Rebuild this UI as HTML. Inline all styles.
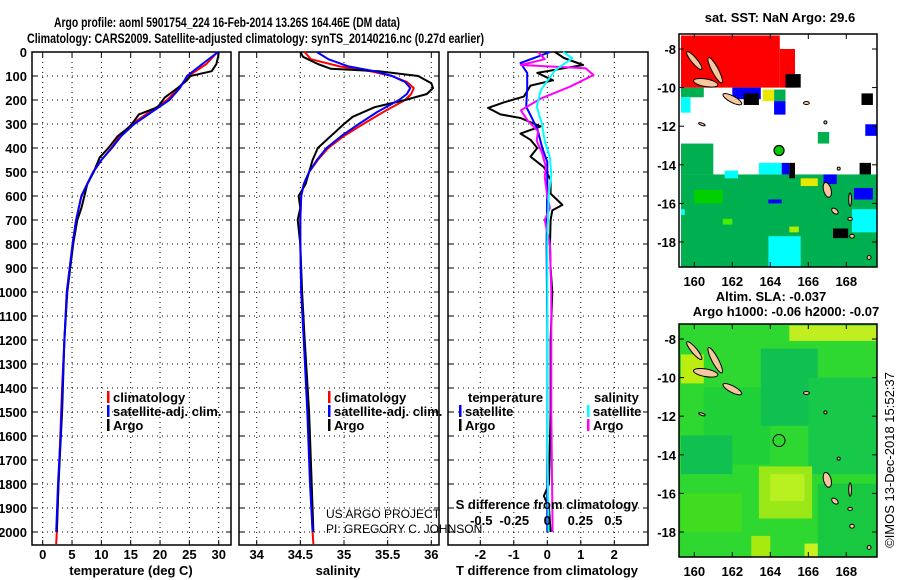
<!DOCTYPE html>
<html><head><meta charset="utf-8">
<style>
html,body{margin:0;padding:0;background:#fff;}
svg{display:block;font-family:"Liberation Sans",sans-serif;}
.t{font-weight:bold;font-size:13px;}
</style></head>
<body>
<svg id="chart" width="900" height="580" viewBox="0 0 900 580" xmlns="http://www.w3.org/2000/svg">
<text x="54" y="27" font-size="14" font-weight="bold" textLength="346" lengthAdjust="spacingAndGlyphs">Argo profile: aoml 5901754_224 16-Feb-2014 13.26S 164.46E (DM data)</text>
<text x="27" y="43" font-size="14" font-weight="bold" textLength="457" lengthAdjust="spacingAndGlyphs">Climatology: CARS2009. Satellite-adjusted climatology: synTS_20140216.nc (0.27d earlier)</text>
<g id="g"></g>
</svg>
<script>
// ---------- data ----------
const depthTicks=[0,100,200,300,400,500,600,700,800,900,1000,1100,1200,1300,1400,1500,1600,1700,1800,1900,2000];
const tempTicks=[0,5,10,15,20,25,30];
const salTicks=[34,34.5,35,35.5,36];
const tdiffTicks=[-2,-1,0,1,2];
const sdiffTicks=[-0.5,-0.25,0,0.25,0.5];
const sdiffTickLabels=["-0.5","-0.25","0","0.25","0.5"];

const tClimDepth=[0,50,100,150,200,250,300,350,400,450,500,600,700,800,900,1000,1200,1400,1600,1800,2000,2050];
const tClimVal=[29.8,27.9,24.8,23.2,21.2,18.2,15.2,13.2,11.7,10.0,8.6,6.6,5.7,5.1,4.6,4.1,3.7,3.3,3.0,2.7,2.4,2.3];
const tSatDepth=[0,50,100,150,200,250,300,350,400,450,500,600,700,800,900,1000,1200,1400,1600,1800,2000];
const tSatVal=[29.9,27.2,24.6,23.4,21.6,18.6,15.6,13.4,11.8,10.0,8.6,6.6,5.7,5.1,4.6,4.1,3.7,3.35,3.05,2.6,2.3];
const tArgoDepth=[0,20,50,80,100,120,150,190,230,260,280,310,350,400,440,500,550,600,650,700,800,1000,1200,1500,1800,2000];
const tArgoVal=[30.0,29.9,29.6,28.8,25.2,24.5,23.0,20.8,19.6,16.4,15.8,14.9,12.8,11.2,9.7,8.7,7.6,7.1,6.6,5.9,5.2,4.2,3.7,3.3,2.7,2.4];

const sClimDepth=[0,30,60,80,100,125,150,175,200,250,300,350,400,450,500,550,600,700,800,1000,1200,1500,1800,2000,2050];
const sClimVal=[34.55,34.62,34.95,35.3,35.55,35.72,35.8,35.77,35.7,35.45,35.22,35.0,34.82,34.7,34.6,34.54,34.51,34.5,34.5,34.51,34.54,34.59,34.62,34.64,34.65];
const sSatDepth=[0,30,60,80,100,125,150,175,200,250,300,350,400,450,500,550,600,700,800,1000,1200,1500,1800,2000];
const sSatVal=[34.69,34.82,35.05,35.35,35.55,35.7,35.76,35.72,35.63,35.38,35.17,34.97,34.8,34.69,34.6,34.54,34.51,34.5,34.5,34.51,34.54,34.58,34.61,34.64];
const sArgoDepth=[0,20,50,70,80,100,130,150,175,200,230,270,300,350,400,450,500,550,600,650,700,800,1000,1200,1500,1800,2000];
const sArgoVal=[34.5,34.53,34.7,34.85,35.4,35.85,36.0,36.02,35.95,35.7,35.35,35.1,35.0,34.85,34.7,34.64,34.6,34.56,34.48,34.5,34.47,34.5,34.52,34.55,34.6,34.63,34.65];

const dTSatDepth=[0,20,46,87,150,228,320,400,458,550,800,1200,2000];
const dTSatVal=[0.08,-0.3,-0.8,-0.6,-0.6,-0.63,-0.3,-0.15,0,0,-0.02,0,0];
const dTArgoDepth=[0,25,54,70,87,118,140,186,210,233,260,275,310,340,366,400,436,480,533,590,637,660,700,800,900,1000,1200,1500,1800,1850,1900,2000];
const dTArgoVal=[0.23,0.5,1.07,0.4,-0.3,0.17,-0.5,-0.7,-1.3,-1.77,-1.4,-0.8,-0.2,-0.8,-0.5,-0.3,-0.5,-0.1,0.1,0.1,0.45,0.15,0.1,0.08,0.1,0.15,0.1,0.1,0.05,-0.1,0.05,0.1];
const dSArgoDepth=[0,30,54,68,96,145,194,243,285,330,370,420,480,520,600,650,700,800,1000,1500,2000];
const dSArgoVal=[-0.07,-0.02,-0.2,0.29,0.35,0.17,-0.05,-0.2,-0.15,-0.07,-0.08,-0.04,-0.01,-0.02,0.0,0.02,-0.02,0.02,0.03,0.03,0.04];
const dSSatDepth=[0,26,76,120,160,228,300,370,440,510,600,800,1200,1600,2000];
const dSSatVal=[0.12,0.19,0.06,0.0,-0.05,-0.08,-0.04,-0.02,0.02,0.03,0.01,0.0,0.0,0.0,0.01];

// map data: [lon0, lat0, lon1, lat1, color]
const sstBlocks=[
 [159.3,-7.3,164.5,-10.0,"#ff0000"],[164.5,-8.0,165.3,-10.0,"#ff0000"],
 [159.3,-10.0,160.5,-10.5,"#00b050"],[159.3,-10.5,159.8,-11.3,"#00ffff"],
 [162.0,-10.0,163.5,-10.6,"#0000ff"],[164.8,-9.3,165.6,-10.0,"#000000"],
 [162.6,-10.3,163.4,-10.9,"#000000"],[163.6,-10.1,164.2,-10.7,"#e8e800"],[164.2,-10.1,164.8,-10.7,"#00b050"],
 [164.2,-10.7,164.8,-11.4,"#0000ff"],[168.8,-10.3,169.4,-10.9,"#000000"],[169.0,-11.9,169.6,-12.5,"#0000ff"],
 [166.5,-12.3,167.1,-12.9,"#00b050"],[168.7,-13.9,169.3,-14.5,"#000000"],
 [159.3,-12.9,161.0,-14.5,"#00b050"],[159.3,-14.5,169.6,-19.3,"#00b050"],
 [163.4,-13.9,164.6,-14.5,"#00ffff"],[164.6,-13.9,165.0,-14.5,"#0000ff"],[165.0,-13.9,165.3,-14.7,"#000000"],
 [166.8,-14.5,167.5,-15.0,"#0000ff"],[168.4,-15.2,169.4,-15.8,"#0000ff"],[161.6,-14.3,162.3,-14.7,"#00ffff"],
 [165.6,-14.7,166.5,-15.1,"#e8e800"],[163.9,-17.7,165.6,-19.3,"#00ffff"],[167.3,-17.3,168.1,-17.8,"#000000"],
 [159.3,-16.3,159.5,-16.6,"#00ffff"],[168.3,-16.3,169.6,-17.5,"#00ffff"],[160.0,-15.3,161.5,-16.0,"#00d000"],
 [161.5,-16.8,162.0,-17.1,"#44ee00"],[163.9,-15.8,164.6,-16.0,"#0000ff"],[165.0,-17.2,165.5,-17.5,"#aaee00"]
];
const slaBlocks=[
 [159.3,-7.3,169.6,-19.3,"#2ed830"],
 [160.5,-10.5,164.0,-14.5,"#20d038"],[163.5,-8.5,166.5,-12.5,"#10c050"],[159.3,-13.0,162.0,-15.0,"#10c050"],[166.0,-10.0,169.6,-15.0,"#18c848"],
 [163.4,-14.6,166.2,-17.3,"#9ae818"],[164.0,-15.0,165.8,-16.4,"#b8f020"],
 [159.3,-8.8,160.5,-10.3,"#bbee10"],[165.0,-7.3,169.6,-8.1,"#c0ee20"],
 [163.0,-18.2,164.0,-19.3,"#a8ea10"],[165.8,-18.6,167.3,-19.3,"#c8f020"],
 [159.3,-16.0,162.5,-18.0,"#40dc20"],[166.5,-15.5,169.6,-19.3,"#18c840"]
];
const islands=[[160.0,-8.6,0.6,0.15,50],[161.1,-9.1,0.75,0.17,62],[160.6,-9.75,0.65,0.2,10],[162.0,-10.6,0.55,0.17,28],
 [165.9,-10.8,0.15,0.08,0],[166.9,-11.8,0.08,0.08,0],[167.0,-15.3,0.2,0.4,-15],[167.4,-16.4,0.2,0.12,40],[168.2,-15.8,0.07,0.35,0],
 [168.3,-17.7,0.12,0.1,0],[169.2,-18.8,0.1,0.1,0],[160.4,-11.9,0.18,0.06,20],[167.6,-14.2,0.08,0.08,0],[168.2,-16.8,0.12,0.08,0]];
const argoLon=164.46, argoLat=-13.26;
const lonTicks=[160,162,164,166,168];
const latTicks=[-8,-10,-12,-14,-16,-18];

// ---------- drawing ----------
const NS="http://www.w3.org/2000/svg";
const G=document.getElementById('g');
function mk(tag,attrs,parent){const e=document.createElementNS(NS,tag);for(const k in attrs)e.setAttribute(k,attrs[k]);(parent||G).appendChild(e);return e;}
const Y0=52,PY=0.24,BOT=545;
function yD(d){return Y0+d*PY;}
function xT(v){return 42.7+v*5.867;}
function xS(v){return 256.7+(v-34)*87.3;}
function xDT(v){return 547.3+v*33.5;}
function xDS(v){return 547.3+v*132;}

function frame(x0,x1,name){
  const r=mk('rect',{x:x0,y:Y0,width:x1-x0,height:BOT-Y0,fill:'none',stroke:'#000','stroke-width':1.5});
  
  
  depthTicks.forEach(d=>{const l=mk('line',{x1:x0,x2:x1,y1:yD(d),y2:yD(d),stroke:'#000','stroke-width':1,'stroke-dasharray':'1,4'});
    
    
    mk('line',{x1:x0,x2:x0+5,y1:yD(d),y2:yD(d),stroke:'#000'});mk('line',{x1:x1-5,x2:x1,y1:yD(d),y2:yD(d),stroke:'#000'});});
}
function vgrid(ticks,fx,labels,ly,name){
  ticks.forEach((t,i)=>{const x=fx(t);
    const l=mk('line',{x1:x,x2:x,y1:Y0,y2:BOT,stroke:'#000','stroke-dasharray':'1,4'});
    
    
    mk('line',{x1:x,x2:x,y1:BOT-5,y2:BOT,stroke:'#000'});mk('line',{x1:x,x2:x,y1:Y0,y2:Y0+5,stroke:'#000'});
    const tx=mk('text',{x:x,y:ly,'text-anchor':'middle',class:'t'});tx.textContent=labels?labels[i]:String(t);
    
    });
}
function line(ds,vs,fx,color,name,w){
  const p=ds.map((d,i)=>(i?'L':'M')+fx(vs[i]).toFixed(1)+','+yD(d).toFixed(1)).join('');
  const e=mk('path',{d:p,fill:'none',stroke:color,'stroke-width':w||2,'stroke-linejoin':'round'});
  
  
}
function label(x,y,txt,name,extra){const t=mk('text',Object.assign({x:x,y:y,class:'t'},extra||{}));t.textContent=txt;
  
  return t;}
function legend(x,y,items,prefix){items.forEach((it,i)=>{const yy=y+i*14;
  const r=mk('rect',{x:x,y:yy-11,width:2.5,height:12,fill:it[1]});
  
  
  label(x+6,yy,it[0],prefix+'-legend-entry');});}

// panel 1
frame(32,231,'temperature-panel');
vgrid(tempTicks,xT,null,559,'temperature');
depthTicks.forEach(d=>label(27,yD(d)+5,String(d),'depth-tick-label',{'text-anchor':'end'}));
line(tClimDepth,tClimVal,xT,'#ff0000','temperature-climatology-line');
line(tArgoDepth,tArgoVal,xT,'#000','temperature-argo-line');
line(tSatDepth,tSatVal,xT,'#0000ff','temperature-satellite-line');
legend(107,402,[["climatology","#ff0000"],["satellite-adj. clim.","#0000ff"],["Argo","#000"]],'temperature');
label(131,575,'temperature (deg C)','temperature-axis-title',{'text-anchor':'middle'});

// panel 2
frame(239,439,'salinity-panel');
vgrid(salTicks,xS,null,559,'salinity');
line(sClimDepth,sClimVal,xS,'#ff0000','salinity-climatology-line');
line(sArgoDepth,sArgoVal,xS,'#000','salinity-argo-line');
line(sSatDepth,sSatVal,xS,'#0000ff','salinity-satellite-line');
legend(328,402,[["climatology","#ff0000"],["satellite-adj. clim.","#0000ff"],["Argo","#000"]],'salinity');
label(338,575,'salinity','salinity-axis-title',{'text-anchor':'middle'});
label(326,518,'US ARGO PROJECT','credit-project',{style:'font-weight:normal;font-size:12px'});
label(326,533,'PI: GREGORY C. JOHNSON','credit-pi',{style:'font-weight:normal;font-size:12px'});

// panel 3
frame(448,648,'difference-panel');
vgrid(tdiffTicks,xDT,null,559,'t-difference');
line(dTArgoDepth,dTArgoVal,xDT,'#000','t-diff-argo-line');
line(dTSatDepth,dTSatVal,xDT,'#0000ff','t-diff-satellite-line');
line(dSArgoDepth,dSArgoVal,xDS,'#ff00ff','s-diff-argo-line');
line(dSSatDepth,dSSatVal,xDS,'#00ffff','s-diff-satellite-line');
sdiffTicks.forEach((t,i)=>{label(xDS(t),525,sdiffTickLabels[i],'s-difference-tick-label',{'text-anchor':'middle'});});
label(468,402,'temperature','t-legend-title');
legend(459,416,[["satellite","#0000ff"],["Argo","#000"]],'t-diff');
label(594,402,'salinity','s-legend-title');
legend(587,416,[["satellite","#00ffff"],["Argo","#ff00ff"]],'s-diff');
label(547,509,'S difference from climatology','s-difference-axis-title',{'text-anchor':'middle'});
label(547,575,'T difference from climatology','t-difference-axis-title',{'text-anchor':'middle'});

// maps
function mLon(l){return 694.3+(l-160)*19;}
function mLat(l){return 49+(-8-l)*19.3;}
function map(top,blocks,bg,name){
  const dy=top-34;
  const clip=mk('clipPath',{id:name+'-clip'});mk('rect',{x:679,y:top,width:198,height:233},clip);
  const grp=mk('g',{'clip-path':'url(#'+name+'-clip)'});
  
  
  mk('rect',{x:679,y:top,width:198,height:233,fill:bg},grp);
  blocks.forEach(b=>{const r=mk('rect',{x:mLon(b[0]),y:mLat(b[1])+dy,width:mLon(b[2])-mLon(b[0]),height:mLat(b[3])-mLat(b[1]),fill:b[4]},grp);
    
    });
  islands.forEach(s=>{const e=mk('ellipse',{cx:mLon(s[0]),cy:mLat(s[1])+dy,rx:s[2]*19,ry:s[3]*19,fill:'#f7c89b',stroke:'#000','stroke-width':1,transform:'rotate('+s[4]+' '+mLon(s[0])+' '+(mLat(s[1])+dy)+')'},grp);
    
    });
  mk('rect',{x:679,y:top,width:198,height:233,fill:'none',stroke:'#000','stroke-width':1.5});
  lonTicks.forEach(l=>{const x=mLon(l);mk('line',{x1:x,x2:x,y1:top+233,y2:top+228,stroke:'#000'});mk('line',{x1:x,x2:x,y1:top,y2:top+5,stroke:'#000'});
    label(x,top+252,String(l),name+'-lon-label',{'text-anchor':'middle'});});
  latTicks.forEach(l=>{const y=mLat(l)+dy;mk('line',{x1:679,x2:684,y1:y,y2:y,stroke:'#000'});mk('line',{x1:872,x2:877,y1:y,y2:y,stroke:'#000'});
    label(676,y+5,String(l),name+'-lat-label',{'text-anchor':'end'});});
  return dy;
}
const d1=map(34,sstBlocks,'#fff','sst-map');
const c1=mk('circle',{cx:mLon(argoLon),cy:mLat(argoLat)+d1,r:5,fill:'#00cc00',stroke:'#000','stroke-width':1.2});


label(780,22,'sat. SST: NaN Argo: 29.6','sst-map-title',{'text-anchor':'middle'});
const d2=map(324,slaBlocks,'#2ed530','sla-map');
const c2=mk('circle',{cx:mLon(argoLon),cy:mLat(argoLat)+d2,r:6,fill:'none',stroke:'#000','stroke-width':1});


label(771,301,'Altim. SLA: -0.037','sla-map-title',{'text-anchor':'middle'});
label(786,316,'Argo h1000: -0.06 h2000: -0.07','argo-height-title',{'text-anchor':'middle'});
label(0,0,'©IMOS 13-Dec-2018 15:52:37','imos-timestamp',{'text-anchor':'middle',transform:'translate(894,460) rotate(-90)',style:'font-weight:normal;font-size:13px'});
</script>
</body></html>
